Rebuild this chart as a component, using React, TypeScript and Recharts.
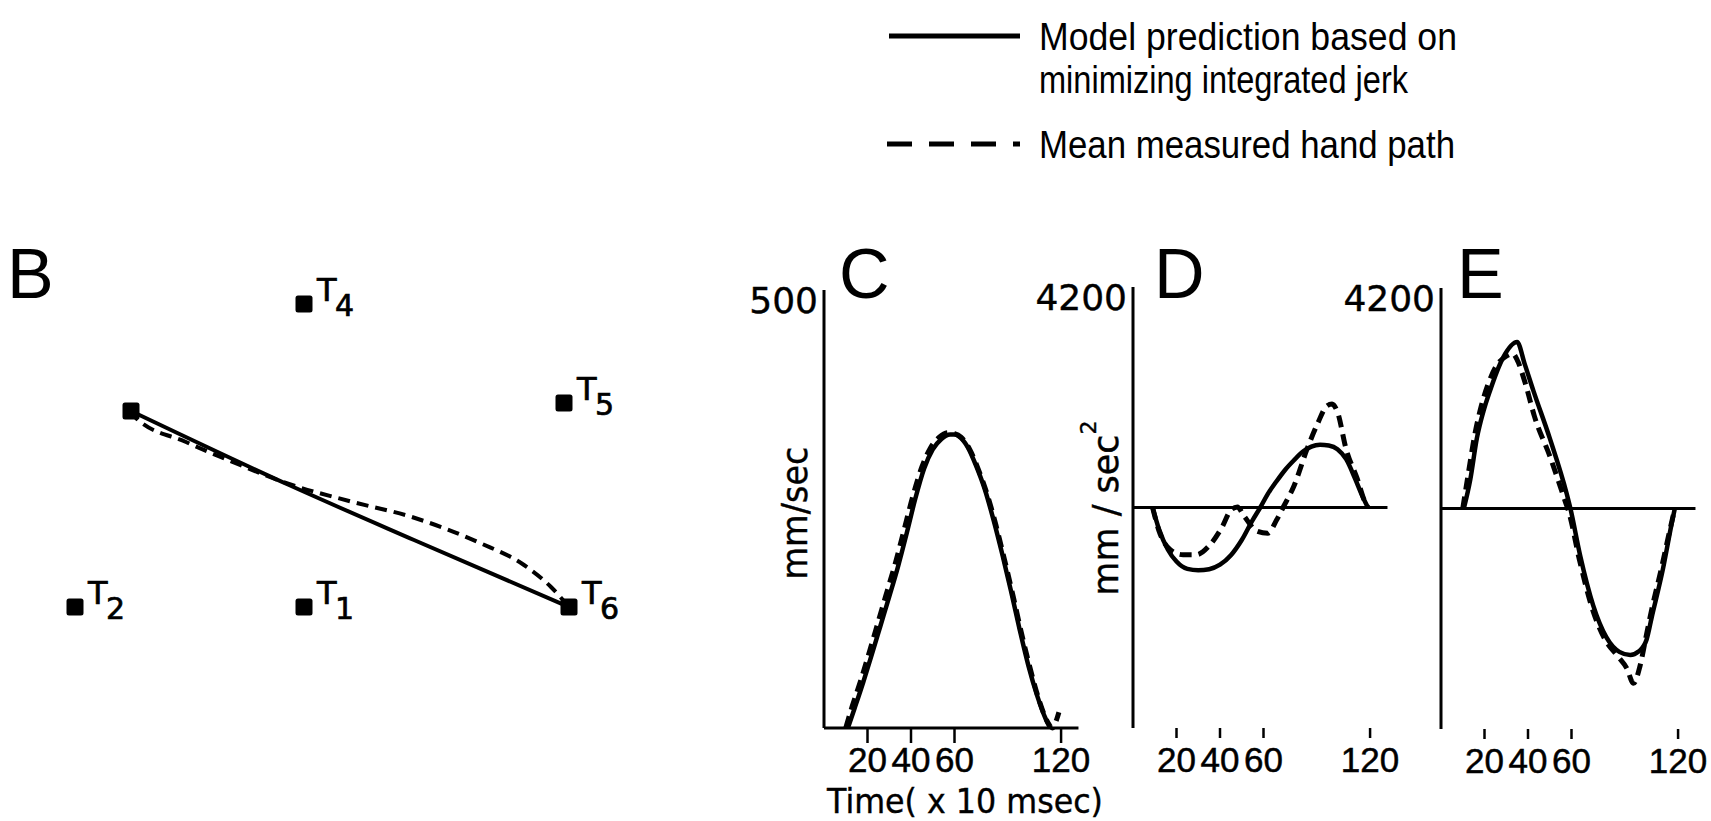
import React from "react";
import {
  ComposedChart,
  LineChart,
  Line,
  Scatter,
  XAxis,
  YAxis,
  ReferenceLine,
} from "recharts";

const INK = "#000";
const ROUND_FONT = "'DejaVu Sans', sans-serif";
const SANS = "'Liberation Sans', Arial, sans-serif";

// ---- B: workspace targets and hand paths (units, T1 at origin) ----
const targetX = [0, -22.9, 0, 26.0, 26.5, -17.3];
const targetY = [0, 0, 30.3, 20.4, 0, 19.6];
const targetLabels = ["1", "2", "4", "5", "6", ""];

const pathModelX = [-17.3, -1.5, 11, 26.5];
const pathModelY = [19.6, 12.2, 6.7, 0];
const pathMeasuredX = [-17.3, -16.8, -11.8, -6.4, -1.5, 4.5, 11.1, 17.6, 22.0, 24.7, 26.5];
const pathMeasuredY = [19.7, 18.9, 16.5, 14.2, 12.3, 10.6, 8.9, 6.4, 4.2, 2.0, 0];

// ---- shared time axis ----
const xTicks = [20, 40, 60, 109];
const xTickLabels = ["20", "40", "60", "120"];

// ---- C: velocity (mm/sec) ----
const velTimeModel = [11, 14, 18, 22, 26, 30, 34, 38, 42, 46, 50, 54, 58, 60, 62, 66, 70, 74, 78, 82, 86, 90, 94, 98, 102, 104];
const velModel = [0, 22, 52, 84, 117, 150, 184, 222, 262, 296, 318, 330, 335, 335, 333, 321, 299, 272, 237, 198, 156, 112, 71, 37, 10, 0];
const velTimeMeasured = [10, 13, 17, 21, 25, 29, 33, 37, 41, 45, 49, 53, 57, 60, 63, 67, 71, 75, 79, 83, 87, 91, 95, 99, 103, 105, 107, 108];
const velMeasured = [0, 25, 55, 88, 122, 156, 190, 228, 266, 298, 320, 332, 337, 336, 332, 318, 295, 267, 232, 192, 150, 106, 66, 31, 6, 0, 10, 18];

// ---- D: acceleration (mm/sec^2) ----
const accDTimeModel = [9, 12, 16, 20, 25, 30, 35, 40, 45, 50, 55, 58.5, 62, 66, 70, 74, 78, 82, 86, 90, 94, 98, 102, 105, 108];
const accDModel = [0, -420, -800, -1030, -1170, -1195, -1175, -1090, -910, -620, -240, 0, 260, 500, 720, 900, 1060, 1160, 1195, 1180, 1110, 920, 560, 260, 0];
const accDTimeMeasured = [9, 12, 17, 23, 29, 35, 41, 45, 48, 51, 57, 62, 66, 69, 74, 80, 85, 89, 91.5, 94, 98, 103, 106.5, 108];
const accDMeasured = [0, -450, -800, -900, -900, -730, -370, -50, 10, -160, -450, -490, -240, 0, 410, 1110, 1610, 1930, 1970, 1820, 1110, 560, 120, 0];

// ---- E: acceleration (mm/sec^2) ----
const accETimeModel = [10.5, 13.5, 16.5, 19.5, 22.5, 28.5, 35, 38.5, 42.5, 50, 57.8, 59.5, 64, 70, 76, 82, 87, 91, 94.5, 97, 102, 106, 107.5];
const accEModel = [0, 560, 1340, 1850, 2240, 2870, 3170, 2750, 2240, 1340, 280, 0, -900, -1850, -2450, -2730, -2790, -2720, -2500, -2050, -1160, -300, 0];
const accETimeMeasured = [10, 12.5, 15.5, 18.5, 21.5, 25.5, 30, 33, 35, 39, 43, 50, 57, 59, 63.5, 69.5, 75.5, 81, 85.5, 88.5, 91.5, 94, 97, 101, 105, 107.5];
const accEMeasured = [0, 650, 1400, 1950, 2350, 2720, 2900, 2950, 2830, 2350, 1750, 1000, 150, -100, -950, -1900, -2500, -2800, -3050, -3330, -3000, -2500, -1900, -1200, -450, 0];

const zip = (xs: number[], ys: number[], kx: string, ky: string) =>
  xs.map((x, i) => ({ [kx]: x, [ky]: ys[i] }));

const fmtTime = (v: number) => xTickLabels[xTicks.indexOf(v)] ?? String(v);

function TargetMark(props: any) {
  const { cx, cy, payload } = props;
  return (
    <g>
      <rect x={cx - 8.5} y={cy - 8.5} width={17} height={17} rx={2.5} fill={INK} />
      {payload.label ? (
        <g fontFamily={ROUND_FONT} fill={INK} stroke={INK} strokeWidth={0.7}>
          <text x={cx + 13} y={cy - 3} fontSize={32}>T</text>
          <text x={cx + 31} y={cy + 12} fontSize={30}>{payload.label}</text>
        </g>
      ) : null}
    </g>
  );
}

function TopTick(props: any) {
  const { x, y, payload } = props;
  return (
    <text x={x} y={y + 23} textAnchor="end" fontSize={36} fontFamily={ROUND_FONT} fill={INK} stroke={INK} strokeWidth={0.4}>
      {payload.value}
    </text>
  );
}

function PanelB() {
  const targets = targetX.map((x, i) => ({ x, y: targetY[i], label: targetLabels[i] }));
  return (
    <div style={{ position: "absolute", left: 4, top: 247 }}>
      <ComposedChart width={640} height={420} margin={{ top: 0, right: 0, bottom: 0, left: 0 }}>
        <XAxis type="number" dataKey="x" domain={[-30, 34]} hide />
        <YAxis type="number" dataKey="y" domain={[-6, 36]} hide />
        <Line data={zip(pathModelX, pathModelY, "x", "y")} dataKey="y" type="monotone" stroke={INK} strokeWidth={4} dot={false} activeDot={false} isAnimationActive={false} />
        <Line data={zip(pathMeasuredX, pathMeasuredY, "x", "y")} dataKey="y" type="monotone" stroke={INK} strokeWidth={4} strokeDasharray="12 7" dot={false} activeDot={false} isAnimationActive={false} />
        <Scatter data={targets} dataKey="y" shape={TargetMark} isAnimationActive={false} />
      </ComposedChart>
    </div>
  );
}

interface TimePanelProps {
  left: number;
  top: number;
  width: number;
  marginTop: number;
  domain: [number, number];
  topValue: number;
  model: object[];
  measured: object[];
  dataKey: string;
  boxed?: boolean;
}

function TimePanel({ left, top, width, marginTop, domain, topValue, model, measured, dataKey, boxed }: TimePanelProps) {
  const yw = 124;
  const plotW = 117 * 2.175;
  return (
    <div style={{ position: "absolute", left, top }}>
      <LineChart width={width} height={581} margin={{ top: marginTop, right: width - yw - plotW, bottom: 0, left: 0 }}>
        <XAxis
          type="number"
          dataKey="t"
          domain={[0, 117]}
          ticks={xTicks}
          interval={0}
          tickFormatter={fmtTime}
          height={581 - marginTop - (boxed ? 438 : 441)}
          axisLine={boxed ? { stroke: INK, strokeWidth: 3 } : false}
          tickLine={{ stroke: INK, strokeWidth: 2.5 }}
          tickSize={boxed ? 15 : 10}
          tickMargin={boxed ? 4 : 9}
          tick={{ fill: INK, stroke: INK, strokeWidth: 0.5, fontSize: 35, fontFamily: SANS }}
        />
        <YAxis
          type="number"
          domain={domain}
          ticks={[topValue]}
          width={yw}
          tick={<TopTick />}
          tickLine={false}
          tickSize={0}
          tickMargin={6}
          axisLine={{ stroke: INK, strokeWidth: 3 }}
        />
        {!boxed && <ReferenceLine y={0} stroke={INK} strokeWidth={3} />}
        <Line data={model} dataKey={dataKey} type="monotone" stroke={INK} strokeWidth={4.5} dot={false} activeDot={false} isAnimationActive={false} />
        <Line data={measured} dataKey={dataKey} type="monotone" stroke={INK} strokeWidth={5} strokeDasharray="12 7" dot={false} activeDot={false} isAnimationActive={false} />
      </LineChart>
    </div>
  );
}

export default function App() {
  return (
    <div style={{ position: "absolute", left: 0, top: 0, width: 1711, height: 821, background: "#fff", overflow: "hidden" }}>
      <svg width={1711} height={821} style={{ position: "absolute", left: 0, top: 0 }}>
        {/* legend */}
        <line x1={889} y1={36} x2={1020} y2={36} stroke={INK} strokeWidth={5} />
        <line x1={887} y1={144} x2={1020} y2={144} stroke={INK} strokeWidth={5} strokeDasharray="25 17" />
        <g fontFamily={SANS} fontSize={38} fill={INK}>
          <text x={1039} y={50} textLength={418} lengthAdjust="spacingAndGlyphs">Model prediction based on</text>
          <text x={1039} y={93} textLength={369} lengthAdjust="spacingAndGlyphs">minimizing integrated jerk</text>
          <text x={1039} y={158} textLength={416} lengthAdjust="spacingAndGlyphs">Mean measured hand path</text>
        </g>
        {/* panel letters */}
        <g fontFamily={SANS} fontSize={70} fill={INK}>
          <text x={7} y={298}>B</text>
          <text x={839} y={298}>C</text>
          <text x={1154} y={298}>D</text>
          <text x={1457} y={298}>E</text>
        </g>
        {/* axis titles */}
        <g fontFamily={ROUND_FONT} fill={INK} stroke={INK} strokeWidth={0.4}>
          <text x={827} y={813} fontSize={34} textLength={276} lengthAdjust="spacingAndGlyphs">Time( x 10 msec)</text>
          <text x={807} y={513} fontSize={35} textAnchor="middle" transform="rotate(-90 807 513)" textLength={133} lengthAdjust="spacingAndGlyphs">mm/sec</text>
          <text x={1118} y={508} fontSize={35} textAnchor="middle" transform="rotate(-90 1118 508)">
            mm / sec<tspan dy={-22} fontSize={22}>2</tspan>
          </text>
        </g>
      </svg>
      <PanelB />
      <TimePanel left={700} top={240} width={420} marginTop={50} domain={[0, 500]} topValue={500} boxed
        model={zip(velTimeModel, velModel, "t", "v")} measured={zip(velTimeMeasured, velMeasured, "t", "v")} dataKey="v" />
      <TimePanel left={1009} top={240} width={420} marginTop={47} domain={[-4200, 4200]} topValue={4200}
        model={zip(accDTimeModel, accDModel, "t", "a")} measured={zip(accDTimeMeasured, accDMeasured, "t", "a")} dataKey="a" />
      <TimePanel left={1317} top={240} width={394} marginTop={48} domain={[-4200, 4200]} topValue={4200}
        model={zip(accETimeModel, accEModel, "t", "a")} measured={zip(accETimeMeasured, accEMeasured, "t", "a")} dataKey="a" />
    </div>
  );
}
